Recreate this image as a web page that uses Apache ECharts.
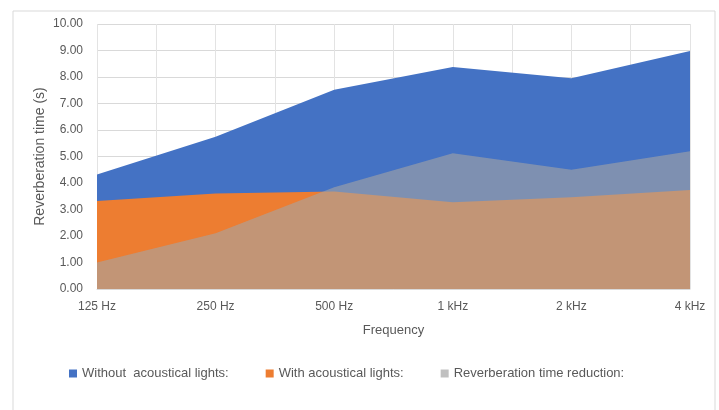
<!DOCTYPE html>
<html><head><meta charset="utf-8">
<script src="https://cdn.jsdelivr.net/npm/echarts@6/dist/echarts.min.js"></script>
<style>html,body{margin:0;padding:0;background:#fff}#c{width:719px;height:410px}</style>
</head><body><div id="c"></div>
<script>
const categories = ['125 Hz','250 Hz','500 Hz','1 kHz','2 kHz','4 kHz'];
const withoutLights = [4.32, 5.75, 7.52, 8.38, 7.95, 8.98];
const withLights = [3.32, 3.60, 3.68, 3.27, 3.46, 3.74];
const reduction = [1.00, 2.10, 3.84, 5.12, 4.50, 5.20];
const yTicks = ['0.00','1.00','2.00','3.00','4.00','5.00','6.00','7.00','8.00','9.00','10.00'];

const toXY = arr => arr.map((v,i)=>[i,v]);
const font = 'Liberation Sans';
const txt = '#595959';
const chart = echarts.init(document.getElementById('c'));
chart.setOption({
  animation:false,
  textStyle:{fontFamily:font},
  graphic:[{type:'rect',shape:{x:13,y:11,width:702,height:420},style:{fill:'none',stroke:'#d9d9d9',lineWidth:1},silent:true}],
  grid:{left:97,right:29,top:24,bottom:121},
  xAxis:{type:'value',min:0,max:categories.length-1,interval:0.5,
    name:'Frequency',nameLocation:'middle',nameGap:35,nameTextStyle:{color:txt,fontSize:13,fontFamily:font},
    axisLine:{show:true,lineStyle:{color:'#d9d9d9'}},axisTick:{show:false},
    axisLabel:{color:txt,fontSize:12,margin:12,formatter:v=>Number.isInteger(v)?categories[v]:''},
    splitLine:{show:true,lineStyle:{color:'#e3e3e3'}}},
  yAxis:{type:'value',min:0,max:10,interval:1,
    name:'Reverberation time (s)',nameLocation:'middle',nameGap:50,nameRotate:90,nameMoveOverlap:false,
    nameTextStyle:{color:txt,fontSize:14,fontFamily:font},
    axisLine:{show:false},axisTick:{show:false},
    axisLabel:{color:txt,fontSize:12,margin:14,formatter:v=>yTicks[Math.round(v)]},
    splitLine:{lineStyle:{color:'#d9d9d9'}}},
  legend:{left:64,top:362,itemGap:37,itemWidth:8,itemHeight:8,icon:'rect',
    textStyle:{color:txt,fontSize:13,fontFamily:font},
    data:['Without  acoustical lights:','With acoustical lights:','Reverberation time reduction:']},
  series:[
    {name:'Without  acoustical lights:',type:'line',data:toXY(withoutLights),symbol:'none',
     lineStyle:{width:0},itemStyle:{color:'#4472c4'},areaStyle:{color:'#4472c4',opacity:1}},
    {name:'With acoustical lights:',type:'line',data:toXY(withLights),symbol:'none',
     lineStyle:{width:0},itemStyle:{color:'#ed7d31'},areaStyle:{color:'#ed7d31',opacity:1}},
    {name:'Reverberation time reduction:',type:'line',data:toXY(reduction),symbol:'none',
     lineStyle:{width:0},itemStyle:{color:'#c0c0c0'},areaStyle:{color:'#a5a5a5',opacity:0.6}}
  ]
});
</script></body></html>
